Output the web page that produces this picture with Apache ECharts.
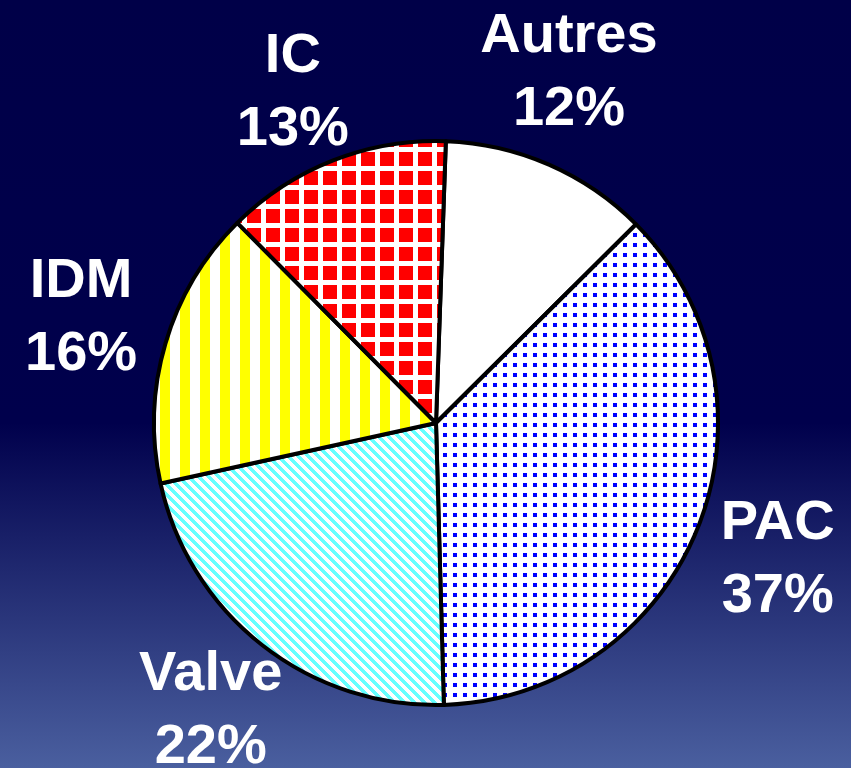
<!DOCTYPE html>
<html>
<head>
<meta charset="utf-8">
<script src="https://cdn.jsdelivr.net/npm/echarts@6/dist/echarts.min.js"></script>
<style>
    html, body { margin: 0; padding: 0; }
    #chart { width: 851px; height: 768px; }
</style>
</head>
<body>
<div id="chart"></div>
<script>
const categories = ["Autres", "PAC", "Valve", "IDM", "IC"];
const shares = [12, 37, 22, 16, 13];
// how far out each label sits from the pie edge
const labelGaps = [100, 86, 84, 88, 72];
// extra right padding nudges a centred label to the left
const labelNudge = [40, 0, 0, 0, 28];

// Tiles used to fill the slices, like the old office-style hatchings
function makeTile(size, draw) {
    const c = document.createElement("canvas");
    c.width = size;
    c.height = size;
    const ctx = c.getContext("2d");
    ctx.fillStyle = "#ffffff";
    ctx.fillRect(0, 0, size, size);
    draw(ctx, size);
    return c;
}

const dotTile = makeTile(10, (ctx) => {
    ctx.fillStyle = "#0000ff";
    ctx.fillRect(3, 3, 4, 4);
});

const diagTile = makeTile(10, (ctx, s) => {
    ctx.fillStyle = "#66ffff";
    for (let i = 0; i < s; i++) {
        for (let k = 0; k < 5; k++) {
            ctx.fillRect((i + k) % s, i, 1, 1);
        }
    }
});

const stripeTile = makeTile(20, (ctx, s) => {
    ctx.fillStyle = "#ffff00";
    ctx.fillRect(0, 0, 10, s);
});

const gridTile = makeTile(19, (ctx) => {
    ctx.fillStyle = "#ff0000";
    ctx.fillRect(0, 0, 14, 14);
});

const fills = [
    "#ffffff",
    { image: dotTile, repeat: "repeat" },
    { image: diagTile, repeat: "repeat" },
    { image: stripeTile, repeat: "repeat" },
    { image: gridTile, repeat: "repeat" }
];

const chart = echarts.init(document.getElementById("chart"));

chart.setOption({
    backgroundColor: {
        type: "linear",
        x: 0, y: 0, x2: 0, y2: 1,
        colorStops: [
            { offset: 0, color: "#000048" },
            { offset: 0.55, color: "#00004c" },
            { offset: 1, color: "#4a5f9f" }
        ]
    },
    animation: false,
    series: [{
        type: "pie",
        center: [436, 423],
        radius: 282,
        startAngle: 88,
        clockwise: true,
        avoidLabelOverlap: false,
        itemStyle: {
            borderColor: "#000000",
            borderWidth: 4
        },
        label: {
            show: true,
            position: "outside",
            formatter: "{b}\n{c}%",
            color: "#ffffff",
            fontFamily: "Arial, 'Liberation Sans', sans-serif",
            fontWeight: "bold",
            fontSize: 56,
            lineHeight: 73,
            distanceToLabelLine: 0
        },
        labelLine: {
            show: false,
            length: 86,
            length2: 0
        },
        labelLayout: function () {
            return { align: "center", verticalAlign: "middle" };
        },
        data: categories.map((name, i) => ({
            name: name,
            value: shares[i],
            itemStyle: { color: fills[i] },
            label: { padding: [0, labelNudge[i], 0, 0] },
            labelLine: { show: false, length: labelGaps[i], length2: 0 }
        }))
    }]
});
</script>
</body>
</html>
